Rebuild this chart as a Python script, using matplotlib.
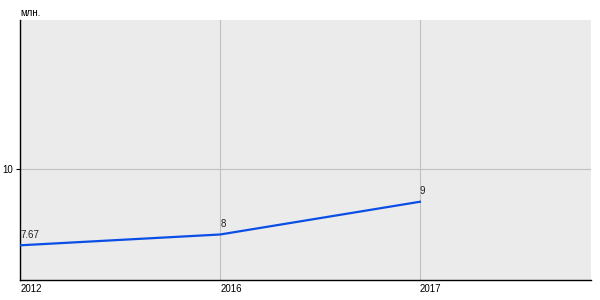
import matplotlib
matplotlib.use("Agg")
from matplotlib import pyplot as plt

plt.rcParams['font.family'] = ['Liberation Sans', 'DejaVu Sans']

years = ["2012", "2016", "2017"]
values = [7.67, 8, 9]
labels = ["7.67", "8", "9"]

fig = plt.figure(figsize=(6, 3), dpi=100)
ax = fig.add_axes([0.034, 0.0667, 0.9505, 0.8653])
ax.set_facecolor("#ebebeb")

x = list(range(len(years)))
ax.plot(x, values, color="#0a4ee6", linewidth=1.6, zorder=3)
for xi, v, t in zip(x, values, labels):
    ax.annotate(t, (xi, v), xytext=(0, 4), textcoords="offset points",
                ha="left", va="bottom", fontsize=7, color="#222222")

ax.set_xlim(0, 2.855)
ax.set_ylim(6.61, 14.54)
ax.set_xticks(x)
ax.set_xticklabels(years, ha="left", fontsize=7)
ax.set_yticks([10])
ax.set_yticklabels(["10"], fontsize=7)
ax.tick_params(axis="x", length=0, pad=3)
ax.tick_params(axis="y", length=3, pad=2)
ax.grid(True, color="#c0c0c0", linewidth=0.8)
ax.set_axisbelow(True)
for s in ["top", "right"]:
    ax.spines[s].set_visible(False)
for s in ["left", "bottom"]:
    ax.spines[s].set_linewidth(1)
    ax.spines[s].set_color("black")

fig.text(0.034, 0.947, "млн.", fontsize=7, ha="left", va="baseline")

fig.savefig("out.png", dpi=100)
